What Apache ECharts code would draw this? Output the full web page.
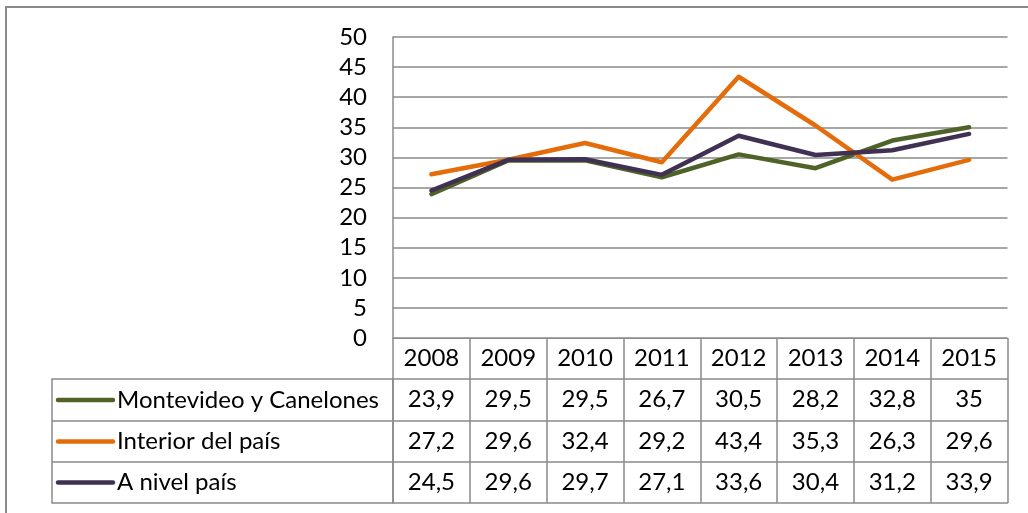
<!DOCTYPE html>
<html>
<head>
<meta charset="utf-8">
<script src="https://cdn.jsdelivr.net/npm/echarts@6/dist/echarts.min.js"></script>
<style>
html,body{margin:0;padding:0;background:#fff;}
#c{width:1028px;height:513px;}
</style>
</head>
<body>
<div id="c"></div>
<script>
var years = ['2008','2009','2010','2011','2012','2013','2014','2015'];
var seriesNames = ['Montevideo y Canelones','Interior del país','A nivel país'];
var montevideo = [23.9, 29.5, 29.5, 26.7, 30.5, 28.2, 32.8, 35];
var interior = [27.2, 29.6, 32.4, 29.2, 43.4, 35.3, 26.3, 29.6];
var pais = [24.5, 29.6, 29.7, 27.1, 33.6, 30.4, 31.2, 33.9];
var colors = ['#4F6228', '#E46C0A', '#403152'];

var allSeries = [montevideo, interior, pais];
function fmt(v){ return String(v).replace('.', ','); }

var FONT = 'Lato';
var FS = 24;
var GRID_COLOR = '#8a8a8a';
var rowOffsets = [41, 83, 124];
var rowHeights = [42, 41, 41];

var xAxes = [{
  type: 'category', data: years, position: 'bottom', boundaryGap: true,
  axisLine: {show: true, lineStyle: {color: GRID_COLOR, width: 1}},
  axisTick: {show: true, interval: 0, length: 41, lineStyle: {color: GRID_COLOR, width: 1.5}},
  axisLabel: {show: true, interval: 0, margin: 8, fontSize: FS, fontFamily: FONT, color: '#000'},
  splitLine: {show: false}
}];
allSeries.forEach(function(s, i){
  xAxes.push({
    type: 'category', data: s.map(fmt), position: 'bottom', offset: rowOffsets[i], boundaryGap: true,
    axisLine: {show: true, lineStyle: {color: GRID_COLOR, width: 1.5}},
    axisTick: {show: true, interval: 0, length: rowHeights[i], lineStyle: {color: GRID_COLOR, width: 1.5}},
    axisLabel: {show: true, interval: 0, margin: 8, fontSize: FS, fontFamily: FONT, color: '#000'},
    splitLine: {show: false}
  });
});
xAxes.push({
  type: 'category', data: years, position: 'bottom', offset: 165, boundaryGap: true,
  axisLine: {show: true, lineStyle: {color: GRID_COLOR, width: 1.5}},
  axisTick: {show: false}, axisLabel: {show: false}, splitLine: {show: false}
});

var chart = echarts.init(document.getElementById('c'), null, {renderer: 'canvas'});

var legendGraphics = [
  {type: 'rect', shape: {x: 52, y: 379, width: 341, height: 124}, style: {fill: 'none', stroke: GRID_COLOR, lineWidth: 1.5}},
  {type: 'line', shape: {x1: 52, y1: 421, x2: 393, y2: 421}, style: {stroke: GRID_COLOR, lineWidth: 1.5}},
  {type: 'line', shape: {x1: 52, y1: 462, x2: 393, y2: 462}, style: {stroke: GRID_COLOR, lineWidth: 1.5}},
  {type: 'rect', shape: {x: 6, y: 7, width: 1040, height: 530}, style: {fill: 'none', stroke: GRID_COLOR, lineWidth: 2}}
];
var rowCenters = [400, 441.5, 482.5];
seriesNames.forEach(function(n, i){
  legendGraphics.push({type: 'line', shape: {x1: 58, y1: rowCenters[i], x2: 113, y2: rowCenters[i]},
    style: {stroke: colors[i], lineWidth: 4.5, lineCap: 'round'}});
  legendGraphics.push({type: 'text', x: 117, y: rowCenters[i],
    style: {text: n, font: FS + 'px ' + FONT, fill: '#000', verticalAlign: 'middle', align: 'left'}});
});

chart.setOption({
  animation: false,
  backgroundColor: '#fff',
  grid: {left: 393, right: 20.5, top: 37, bottom: 175, containLabel: false},
  xAxis: xAxes,
  yAxis: {
    type: 'value', min: 0, max: 50, interval: 5,
    axisLine: {show: true, lineStyle: {color: GRID_COLOR, width: 1.5}},
    axisTick: {show: false},
    axisLabel: {margin: 26, fontSize: FS, fontFamily: FONT, color: '#000'},
    splitLine: {show: true, lineStyle: {color: GRID_COLOR, width: 1.5}}
  },
  series: allSeries.map(function(s, i){
    return {
      name: seriesNames[i], type: 'line', data: s, xAxisIndex: 0,
      symbol: 'none', lineStyle: {color: colors[i], width: 4.5, cap: 'round', join: 'round'},
      itemStyle: {color: colors[i]}
    };
  }),
  graphic: legendGraphics
});
</script>
</body>
</html>
